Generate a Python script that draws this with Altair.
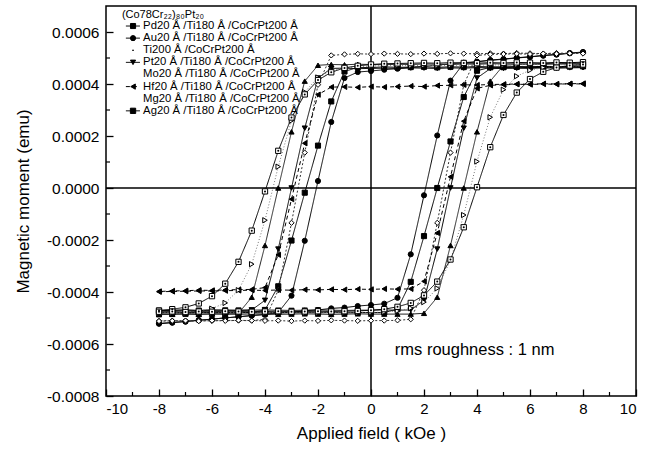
import altair as alt
import pandas as pd

# ---------------- data (magnetic moment in units of 1e-4 emu) ----------------
FIELD_KOE = [-8.0, -7.5, -7.0, -6.5, -6.0, -5.5, -5.0, -4.5, -4.0, -3.5, -3.0, -2.5,
             -2.0, -1.5, -1.0, -0.5, 0.0, 0.5, 1.0, 1.5, 2.0, 2.5, 3.0, 3.5, 4.0,
             4.5, 5.0, 5.5, 6.0, 6.5, 7.0, 7.5, 8.0]

NAMES = ["Pd", "Au", "Ti", "Pt", "Mo", "Hf", "Mg", "Ag"]
LABELS = [
    "Pd20 Å /Ti180 Å /CoCrPt200 Å",
    "Au20 Å /Ti180 Å /CoCrPt200 Å",
    "Ti200 Å /CoCrPt200 Å",
    "Pt20 Å /Ti180 Å /CoCrPt200 Å",
    "Mo20 Å /Ti180 Å /CoCrPt200 Å",
    "Hf20 Å /Ti180 Å /CoCrPt200 Å",
    "Mg20 Å /Ti180 Å /CoCrPt200 Å",
    "Ag20 Å /Ti180 Å /CoCrPt200 Å",
]
LEGEND_TITLE = "(Co78Cr₂₂)₈₀Pt₂₀"
NOTE = "rms roughness : 1 nm"

# descending branch (field swept +8 -> -8), listed by field from -8 to 8
PD_DESC = [-4.80, -4.79, -4.81, -4.80, -4.79, -4.80, -4.79, -4.79, -4.69, -3.78, -2.02, -0.18,
           1.63, 3.33, 4.48, 4.64, 4.63, 4.66, 4.64, 4.65, 4.66, 4.64, 4.66, 4.65, 4.67,
           4.66, 4.65, 4.67, 4.66, 4.68, 4.67, 4.68, 4.69]
PD_ASC = [-4.81, -4.80, -4.80, -4.79, -4.80, -4.79, -4.80, -4.79, -4.80, -4.79, -4.80, -4.79,
          -4.80, -4.79, -4.80, -4.79, -4.79, -4.79, -4.66, -3.61, -1.85, 0.00, 1.79, 3.50, 4.51,
          4.64, 4.65, 4.66, 4.65, 4.67, 4.66, 4.67, 4.68]
AU_DESC = [-5.22, -5.18, -5.13, -5.09, -5.04, -5.00, -4.95, -4.91, -4.86, -4.79, -4.14, -2.03,
           0.27, 2.54, 4.23, 4.46, 4.50, 4.55, 4.59, 4.64, 4.68, 4.73, 4.77, 4.82, 4.86,
           4.91, 4.95, 5.00, 5.04, 5.09, 5.13, 5.18, 5.22]
AU_ASC = [-5.21, -5.17, -5.14, -5.08, -5.05, -4.99, -4.96, -4.90, -4.87, -4.81, -4.78, -4.72,
          -4.69, -4.63, -4.60, -4.54, -4.50, -4.45, -4.22, -2.55, -0.28, 2.02, 4.13, 4.80, 4.85,
          4.92, 4.96, 5.01, 5.05, 5.10, 5.14, 5.19, 5.23]
TI_DESC = [-4.86, -4.85, -4.84, -4.86, -4.85, -4.85, -4.82, -4.20, -2.21, 0.00, 2.16, 4.11,
           4.72, 4.75, 4.74, 4.76, 4.75, 4.74, 4.76, 4.75, 4.77, 4.76, 4.75, 4.77, 4.76,
           4.78, 4.77, 4.78, 4.77, 4.79, 4.78, 4.79, 4.80]
TI_ASC = [-4.87, -4.86, -4.85, -4.86, -4.84, -4.85, -4.86, -4.84, -4.85, -4.86, -4.85, -4.84,
          -4.85, -4.86, -4.85, -4.84, -4.85, -4.85, -4.85, -4.85, -4.82, -4.20, -2.21, 0.00, 2.16,
          4.11, 4.72, 4.75, 4.76, 4.75, 4.77, 4.76, 4.78]
PT_DESC = [-4.71, -4.70, -4.69, -4.71, -4.70, -4.70, -4.70, -4.69, -4.32, -2.35, 0.00, 2.30,
           4.23, 4.60, 4.61, 4.59, 4.60, 4.61, 4.60, 4.62, 4.61, 4.60, 4.62, 4.61, 4.63,
           4.62, 4.63, 4.62, 4.64, 4.63, 4.64, 4.65, 4.64]
PT_ASC = [-4.72, -4.71, -4.70, -4.71, -4.69, -4.70, -4.71, -4.70, -4.69, -4.70, -4.71, -4.70,
          -4.69, -4.70, -4.71, -4.70, -4.70, -4.69, -4.70, -4.69, -4.32, -2.35, 0.00, 2.30, 4.23,
          4.59, 4.60, 4.61, 4.60, 4.62, 4.61, 4.62, 4.63]
MO_DESC = [-5.11, -5.10, -5.12, -5.10, -5.11, -5.09, -5.10, -5.10, -5.05, -3.93, -1.34, 1.36,
           3.97, 5.10, 5.14, 5.16, 5.15, 5.17, 5.16, 5.15, 5.17, 5.16, 5.18, 5.17, 5.16,
           5.18, 5.17, 5.19, 5.18, 5.17, 5.19, 5.18, 5.20]
MO_ASC = [-5.12, -5.11, -5.10, -5.12, -5.10, -5.11, -5.09, -5.10, -5.11, -5.10, -5.12, -5.10,
          -5.11, -5.09, -5.10, -5.11, -5.10, -5.10, -5.09, -5.05, -3.93, -1.34, 1.36, 3.97, 5.10,
          5.14, 5.15, 5.16, 5.15, 5.17, 5.16, 5.18, 5.17]
HF_DESC = [-3.98, -3.96, -3.95, -3.93, -3.94, -3.92, -3.91, -3.90, -3.83, -2.57, -0.43, 1.72,
           3.59, 3.88, 3.89, 3.87, 3.90, 3.88, 3.90, 3.92, 3.90, 3.94, 3.95, 3.97, 3.96,
           3.98, 3.99, 4.00, 3.99, 4.01, 4.00, 4.01, 4.02]
HF_ASC = [-3.99, -3.98, -3.97, -3.96, -3.96, -3.95, -3.94, -3.93, -3.94, -3.92, -3.93, -3.91,
          -3.92, -3.90, -3.91, -3.89, -3.90, -3.88, -3.89, -3.88, -3.59, -1.73, 0.43, 2.57, 3.83,
          3.95, 3.97, 3.99, 3.98, 4.00, 3.99, 4.01, 4.00]
MG_DESC = [-4.80, -4.79, -4.77, -4.73, -4.64, -4.42, -3.93, -2.93, -1.24, 0.82, 2.59, 3.69,
           4.25, 4.51, 4.62, 4.67, 4.69, 4.70, 4.71, 4.70, 4.72, 4.71, 4.72, 4.73, 4.72,
           4.74, 4.73, 4.74, 4.75, 4.74, 4.76, 4.75, 4.76]
MG_ASC = [-4.81, -4.80, -4.82, -4.80, -4.81, -4.79, -4.80, -4.81, -4.80, -4.79, -4.80, -4.81,
          -4.80, -4.79, -4.80, -4.80, -4.79, -4.77, -4.73, -4.62, -4.39, -3.86, -2.78, -1.04, 1.02,
          2.72, 3.78, 4.30, 4.53, 4.63, 4.67, 4.69, 4.70]
AG_DESC = [-4.71, -4.66, -4.59, -4.44, -4.16, -3.68, -2.84, -1.64, -0.13, 1.43, 2.71, 3.60,
           4.15, 4.45, 4.62, 4.70, 4.75, 4.78, 4.79, 4.80, 4.81, 4.80, 4.82, 4.81, 4.80,
           4.82, 4.81, 4.83, 4.82, 4.81, 4.83, 4.82, 4.84]
AG_ASC = [-4.76, -4.75, -4.77, -4.75, -4.76, -4.74, -4.75, -4.76, -4.75, -4.74, -4.76, -4.75,
          -4.74, -4.75, -4.74, -4.73, -4.70, -4.66, -4.57, -4.42, -4.13, -3.60, -2.75, -1.51, 0.03,
          1.57, 2.81, 3.67, 4.19, 4.47, 4.63, 4.71, 4.75]

SERIES = {
    "Pd": (PD_DESC, PD_ASC), "Au": (AU_DESC, AU_ASC), "Ti": (TI_DESC, TI_ASC),
    "Pt": (PT_DESC, PT_ASC), "Mo": (MO_DESC, MO_ASC), "Hf": (HF_DESC, HF_ASC),
    "Mg": (MG_DESC, MG_ASC), "Ag": (AG_DESC, AG_ASC),
}
UNIT = 1e-4

X_TICKS = [-10, -8, -6, -4, -2, 0, 2, 4, 6, 8, 10]
X_MINOR = [-9, -7, -5, -3, -1, 1, 3, 5, 7, 9]
Y_TICKS = [-0.0008, -0.0006, -0.0004, -0.0002, 0.0, 0.0002, 0.0004, 0.0006]
Y_MINOR = [-0.0007, -0.0005, -0.0003, -0.0001, 0.0001, 0.0003, 0.0005]

# ---------------- styling ----------------
SHAPES = ["square", "circle", "triangle-up", "triangle-down", "diamond",
          "triangle-left", "triangle-right", "square"]
FILLS = ["black", "black", "black", "black", "white", "black", "white", "white"]
STROKES = ["black", "black", "#222222", "black", "#333333", "black", "#777777", "black"]
DASHES = [[1, 0], [1, 0], [1, 0], [1, 0], [2, 2], [4, 3], [1, 2], [1, 0]]
SIZES = [26, 28, 30, 40, 28, 34, 30, 28]
LEGEND_SHOWN = [True, True, False, True, False, True, False, True]

W, H = 530, 390
FONT = "Liberation Sans"

# ---------------- build tables ----------------
rows = []
for name, (desc, asc) in SERIES.items():
    k = 0
    for h, v in zip(reversed(FIELD_KOE), reversed(desc)):
        rows.append({"series": name, "H": h, "M": v * UNIT, "order": k})
        k += 1
    for h, v in zip(FIELD_KOE, asc):
        rows.append({"series": name, "H": h, "M": v * UNIT, "order": k})
        k += 1
df = pd.DataFrame(rows)

# legend placed in data coordinates (layout constants)
LEG_X0, LEG_X1, LEG_SYM, LEG_TXT, LEG_TITLE_X = -9.25, -8.72, -8.98, -8.6, -9.4
LEG_Y0, LEG_STEP, LEG_TITLE_Y = 0.000623, 0.0000466, 0.000665
leg = pd.DataFrame({
    "series": NAMES,
    "label": LABELS,
    "shown": LEGEND_SHOWN,
    "H": [LEG_X0] * len(NAMES),
    "H2": [LEG_X1] * len(NAMES),
    "Hs": [LEG_SYM] * len(NAMES),
    "Ht": [LEG_TXT] * len(NAMES),
    "M": [LEG_Y0 - i * LEG_STEP for i in range(len(NAMES))],
})
leg_shown = leg[leg["shown"]]
leg_dot = leg[leg["series"] == "Ti"]

xscale = alt.Scale(domain=[-10, 10], nice=False, zero=False)
yscale = alt.Scale(domain=[-0.0008, 0.0007], nice=False, zero=False)

x_axis = alt.Axis(values=X_TICKS, title="Applied field ( kOe )", grid=False, domain=False,
                  offset=-7, tickSize=7, tickWidth=1.3, tickColor="black",
                  labelPadding=5, labelFontSize=15, titleFontSize=17, titlePadding=9,
                  labelExpr="datum.value < 0 ? '-' + format(-datum.value, 'd') : format(datum.value, 'd')")
y_axis = alt.Axis(values=Y_TICKS, title="Magnetic moment (emu)", grid=False, domain=False,
                  offset=-7, tickSize=7, tickWidth=1.3, tickColor="black",
                  labelPadding=7, labelFontSize=15.5, titleFontSize=17, titlePadding=14,
                  labelExpr="datum.value < 0 ? '-' + format(-datum.value, '.4f') : format(datum.value, '.4f')")

sdom = alt.Scale(domain=NAMES, range=STROKES)

lines = alt.Chart(df).mark_line(strokeWidth=1).encode(
    x=alt.X("H:Q", scale=xscale, axis=x_axis),
    y=alt.Y("M:Q", scale=yscale, axis=y_axis),
    detail="series:N",
    order="order:Q",
    color=alt.Color("series:N", scale=sdom, legend=None),
    strokeDash=alt.StrokeDash("series:N", scale=alt.Scale(domain=NAMES, range=DASHES), legend=None),
)

points = alt.Chart(df).mark_point(opacity=1, strokeWidth=1, stroke="black").encode(
    x=alt.X("H:Q", scale=xscale),
    y=alt.Y("M:Q", scale=yscale),
    shape=alt.Shape("series:N", scale=alt.Scale(domain=NAMES, range=SHAPES), legend=None),
    fill=alt.Fill("series:N", scale=alt.Scale(domain=NAMES, range=FILLS), legend=None),
    size=alt.Size("series:N", scale=alt.Scale(domain=NAMES, range=SIZES), legend=None),
)

ag_dots = alt.Chart(df).transform_filter(alt.datum.series == "Ag").mark_point(
    shape="circle", filled=True, color="black", size=4, opacity=1
).encode(x=alt.X("H:Q", scale=xscale), y=alt.Y("M:Q", scale=yscale))

zero_df = pd.DataFrame({"z": [0.0]})
vzero = alt.Chart(zero_df).mark_rule(color="black", strokeWidth=1.5).encode(
    x=alt.X("z:Q", scale=xscale))
hzero = alt.Chart(zero_df).mark_rule(color="black", strokeWidth=1.5).encode(
    y=alt.Y("z:Q", scale=yscale))

xminor = alt.Chart(pd.DataFrame({"t": X_MINOR})).mark_rule(color="black", strokeWidth=1.2).encode(
    x=alt.X("t:Q", scale=xscale), y=alt.value(H), y2=alt.value(H - 4))
yminor = alt.Chart(pd.DataFrame({"t": Y_MINOR})).mark_rule(color="black", strokeWidth=1.2).encode(
    y=alt.Y("t:Q", scale=yscale), x=alt.value(0), x2=alt.value(4))

leg_lines = alt.Chart(leg_shown).mark_rule(strokeWidth=1).encode(
    x=alt.X("H:Q", scale=xscale), x2="H2:Q", y=alt.Y("M:Q", scale=yscale),
    color=alt.Color("series:N", scale=sdom, legend=None),
    strokeDash=alt.StrokeDash("series:N", scale=alt.Scale(domain=NAMES, range=DASHES), legend=None),
)
leg_syms = alt.Chart(leg_shown).mark_point(opacity=1, strokeWidth=1, stroke="black",
                                           fill="black", filled=True).encode(
    x=alt.X("Hs:Q", scale=xscale), y=alt.Y("M:Q", scale=yscale),
    shape=alt.Shape("series:N", scale=alt.Scale(domain=NAMES, range=SHAPES), legend=None),
    fill=alt.value("black"),
    size=alt.Size("series:N", scale=alt.Scale(domain=NAMES, range=SIZES), legend=None),
)
leg_dot_mark = alt.Chart(leg_dot).mark_point(shape="circle", filled=True, color="black",
                                             size=3, opacity=1).encode(
    x=alt.X("Hs:Q", scale=xscale), y=alt.Y("M:Q", scale=yscale))
leg_text = alt.Chart(leg).mark_text(align="left", baseline="middle", fontSize=11.3,
                                    font=FONT, color="black").encode(
    x=alt.X("Ht:Q", scale=xscale), y=alt.Y("M:Q", scale=yscale), text="label:N")
leg_title = alt.Chart(pd.DataFrame({"H": [LEG_TITLE_X], "M": [LEG_TITLE_Y], "t": [LEGEND_TITLE]})).mark_text(
    align="left", baseline="middle", fontSize=11, font=FONT, color="black").encode(
    x=alt.X("H:Q", scale=xscale), y=alt.Y("M:Q", scale=yscale), text="t:N")

note = alt.Chart(pd.DataFrame({"H": [0.9], "M": [-0.000623], "t": [NOTE]})).mark_text(
    align="left", baseline="middle", fontSize=16.5, font=FONT, color="black").encode(
    x=alt.X("H:Q", scale=xscale), y=alt.Y("M:Q", scale=yscale), text="t:N")

chart = alt.layer(
    lines, vzero, hzero, xminor, yminor, points, ag_dots,
    leg_lines, leg_syms, leg_dot_mark, leg_text, leg_title, note,
).properties(
    width=W, height=H,
    autosize=alt.AutoSizeParams(type="none"),
    padding={"left": 106, "top": 6, "right": 25, "bottom": 59},
    background="white",
).configure_view(stroke="black", strokeWidth=1.5).configure_axis(
    labelFont=FONT, titleFont=FONT, labelColor="black", titleColor="black",
    titleFontWeight="normal",
)

chart.save("out.html", embed_options={"renderer": "svg", "actions": False})
